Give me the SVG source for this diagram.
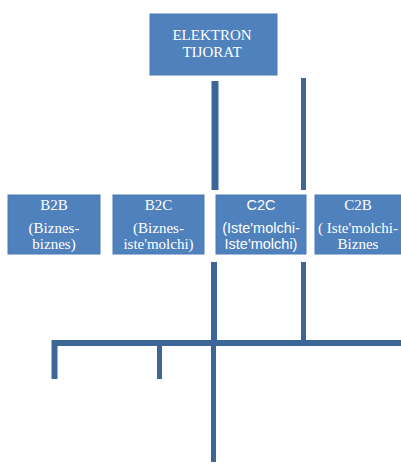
<svg xmlns="http://www.w3.org/2000/svg" width="401" height="464" viewBox="0 0 401 464">
<style>
.box{fill:#4f81bd;stroke:#4a7ab4;stroke-width:1}
.t{fill:#fff;font-family:"Liberation Serif","Times New Roman",serif;font-size:15px;text-anchor:middle}
.s{fill:#fff;font-family:"Liberation Sans",sans-serif;font-size:14.5px;text-anchor:middle}
.c{stroke:#3d6698;fill:none;stroke-linecap:butt}
</style>
<rect width="401" height="464" fill="#fff"/>
<g id="connectors">
<line class="c" x1="215" y1="81" x2="215" y2="190" stroke-width="7"/>
<line class="c" x1="303.5" y1="78" x2="303.5" y2="190" stroke-width="5"/>
<line class="c" x1="214" y1="262" x2="214" y2="343" stroke-width="6"/>
<line class="c" x1="303.5" y1="262" x2="303.5" y2="343" stroke-width="5"/>
<polyline class="c" points="54.5,379 54.5,343 401,343" stroke-width="6"/>
<line class="c" x1="159.5" y1="343" x2="159.5" y2="379" stroke-width="5"/>
<line class="c" x1="213.5" y1="343" x2="213.5" y2="462" stroke-width="5"/>
</g>
<g id="elektron">
<rect class="box" x="150" y="14" width="127" height="61"/>
<text class="t" x="212" y="40">ELEKTRON</text>
<text class="t" x="212" y="57">TIJORAT</text>
</g>
<g id="b2b">
<rect class="box" x="8" y="195" width="92" height="59"/>
<text class="t" x="54" y="210">B2B</text>
<text class="t" x="54" y="233">(Biznes-</text>
<text class="t" x="54" y="249">biznes)</text>
</g>
<g id="b2c">
<rect class="box" x="113" y="195" width="91" height="59"/>
<text class="t" x="158.5" y="210">B2C</text>
<text class="t" x="158.5" y="233">(Biznes-</text>
<text class="t" x="158.5" y="249">iste'molchi)</text>
</g>
<g id="c2c">
<rect class="box" x="216" y="195" width="90" height="59"/>
<text class="s" x="261" y="210">C2C</text>
<text class="s" x="261" y="233">(Iste'molchi-</text>
<text class="s" x="261" y="249">Iste'molchi)</text>
</g>
<g id="c2b">
<rect class="box" x="315" y="195" width="87" height="59"/>
<text class="t" x="358" y="210">C2B</text>
<text class="t" x="358" y="233">( Iste'molchi-</text>
<text class="t" x="358" y="249">Biznes</text>
</g>
</svg>
